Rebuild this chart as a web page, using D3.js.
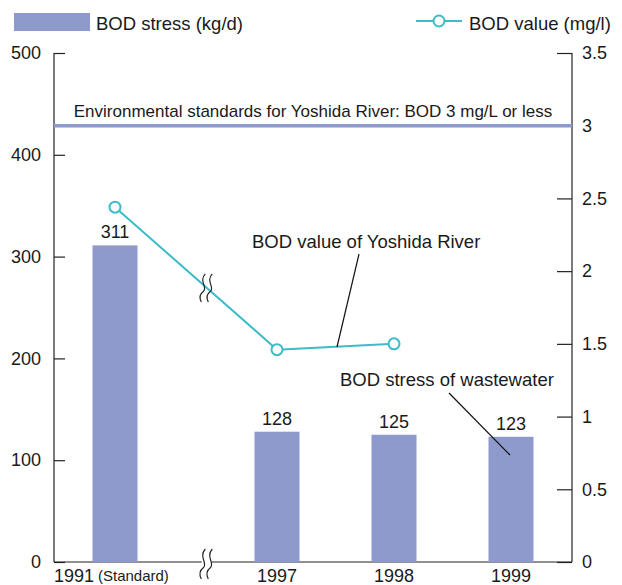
<!DOCTYPE html>
<html><head><meta charset="utf-8">
<script src="https://cdn.jsdelivr.net/npm/d3@7"></script>
<style>
body{margin:0;background:#fff;}
svg text{font-family:"Liberation Sans",Arial,sans-serif;fill:#1a1a1a;}
</style></head>
<body><svg id="c" width="622" height="585"></svg>
<script>
const years = [1991, 1997, 1998, 1999];
const yearLabels = ["1991", "1997", "1998", "1999"];
const bodStress = [311, 128, 125, 123];
const bodValue = [2.44, 1.46, 1.5];
const leftTicks = [0, 100, 200, 300, 400, 500];
const rightTicks = [0, 0.5, 1, 1.5, 2, 2.5, 3, 3.5];
const standardValue = 3;

const svg = d3.select("#c");
const L = 54, R = 572, T = 53, B = 562;
const barColor = "#8e9acb", lineColor = "#3bbcc8";

const x = d3.scaleLinear().domain([1991, 1997, 1999]).range([115, 277, 511]);
const yL = d3.scaleLinear().domain([0, 500]).range([B, T]);
const yR = d3.scaleLinear().domain([0, 3.5]).range([B, T]);
const bw = 45;
const breakX = x(1994.4);

// axes
const axL = d3.axisLeft(yL).tickValues(leftTicks).tickSize(-11).tickFormat(d3.format("d"));
const gL = svg.append("g").attr("transform", `translate(${L},0)`).call(axL);
const axR = d3.axisRight(yR).tickValues(rightTicks).tickSize(-15).tickFormat(d => d);
const gR = svg.append("g").attr("transform", `translate(${R},0)`).call(axR);
[gL, gR].forEach(g => {
  g.select(".domain").attr("d", `M0,${T}V${B}`).attr("stroke", "#222").attr("stroke-width", 1.2);
  g.selectAll(".tick line").attr("stroke", "#222").attr("stroke-width", 1.2);
  g.selectAll(".tick text").style("font-size", "18px").attr("fill", "#1a1a1a");
});
gR.selectAll(".tick text").attr("x", 10);
gL.selectAll(".tick text").attr("x", -13);

// baseline with break
svg.append("line").attr("x1", L).attr("x2", R).attr("y1", B).attr("y2", B).attr("stroke", "#222").attr("stroke-width", 1.2);
svg.append("rect").attr("x", breakX - 5).attr("y", B - 3).attr("width", 10).attr("height", 6).attr("fill", "#fff");
function squiggle(cx, cy, h) {
  [-3.5, 3.5].forEach(dx => {
    const x0 = cx + dx;
    svg.append("path")
      .attr("d", `M${x0 + 2},${cy - h / 2} C${x0 - 5},${cy - h / 4} ${x0 + 5},${cy} ${x0},${cy + h / 8} S${x0 - 3},${cy + h / 2 - 2} ${x0 - 2},${cy + h / 2}`)
      .attr("fill", "none").attr("stroke", "#222").attr("stroke-width", 1.2);
  });
}

// bars
svg.selectAll("rect.bar").data(bodStress).enter().append("rect").attr("class", "bar")
  .attr("x", (d, i) => x(years[i]) - bw / 2).attr("width", bw)
  .attr("y", d => yL(d)).attr("height", d => B - yL(d)).attr("fill", barColor);
svg.selectAll("text.bl").data(bodStress).enter().append("text").attr("class", "bl")
  .attr("x", (d, i) => x(years[i])).attr("y", d => yL(d) - 7)
  .attr("text-anchor", "middle").style("font-size", "18px").text(d => d);

// standard line
svg.append("line").attr("x1", L).attr("x2", R).attr("y1", yR(standardValue)).attr("y2", yR(standardValue))
  .attr("stroke", barColor).attr("stroke-width", 3.5);
svg.append("text").attr("x", 313).attr("y", yR(standardValue) - 9).attr("text-anchor", "middle")
  .style("font-size", "17px").text("Environmental standards for Yoshida River: BOD 3 mg/L or less");

// line
const pts = bodValue.map((v, i) => [x(years[i]), yR(v)]);
svg.append("path").attr("d", d3.line()(pts)).attr("fill", "none").attr("stroke", lineColor).attr("stroke-width", 2);
const t = (breakX - pts[0][0]) / (pts[1][0] - pts[0][0]);
const breakY = pts[0][1] + t * (pts[1][1] - pts[0][1]);
squiggle(breakX, breakY, 28);
squiggle(breakX, B + 2, 30);
svg.selectAll("circle.pt").data(pts).enter().append("circle").attr("class", "pt")
  .attr("cx", d => d[0]).attr("cy", d => d[1]).attr("r", 5.5)
  .attr("fill", "#fff").attr("stroke", lineColor).attr("stroke-width", 2);

// x labels
svg.selectAll("text.xl").data(yearLabels).enter().append("text").attr("class", "xl")
  .attr("x", (d, i) => i === 0 ? 54 : x(years[i])).attr("y", 582)
  .attr("text-anchor", (d, i) => i === 0 ? "start" : "middle")
  .style("font-size", "18px").text(d => d);
svg.append("text").attr("x", 98).attr("y", 581).style("font-size", "15px").text("(Standard)");

// annotations
svg.append("text").attr("x", 252).attr("y", 248).style("font-size", "18.5px").text("BOD value of Yoshida River");
svg.append("line").attr("x1", 359).attr("y1", 254).attr("x2", 337).attr("y2", 347).attr("stroke", "#111").attr("stroke-width", 1.2);
svg.append("text").attr("x", 340).attr("y", 386).style("font-size", "18.5px").text("BOD stress of wastewater");
svg.append("line").attr("x1", 449).attr("y1", 393).attr("x2", 510).attr("y2", 455).attr("stroke", "#111").attr("stroke-width", 1.2);

// legend
svg.append("rect").attr("x", 14).attr("y", 13).attr("width", 76).attr("height", 18).attr("fill", barColor);
svg.append("text").attr("x", 96).attr("y", 30).style("font-size", "18.5px").text("BOD stress (kg/d)");
svg.append("line").attr("x1", 416).attr("x2", 462).attr("y1", 21).attr("y2", 21).attr("stroke", lineColor).attr("stroke-width", 2);
svg.append("circle").attr("cx", 439).attr("cy", 21).attr("r", 5.5).attr("fill", "#fff").attr("stroke", lineColor).attr("stroke-width", 2);
svg.append("text").attr("x", 469).attr("y", 30).style("font-size", "18.5px").text("BOD value (mg/l)");
</script></body></html>
